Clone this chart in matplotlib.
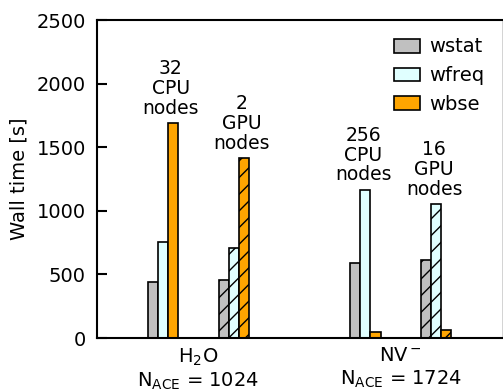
import numpy as np
import matplotlib
matplotlib.use("Agg")
import matplotlib.pyplot as plt


# ---- data ----
systems = ["H$_2$O\nN$_{\\mathrm{ACE}}$ = 1024", "NV$^-$\nN$_{\\mathrm{ACE}}$ = 1724"]
codes = ["wstat", "wfreq", "wbse"]
cpu_times = [[438, 755, 1688], [592, 1163, 47]]
gpu_times = [[458, 707, 1413], [613, 1051, 60]]
cpu_nodes = [32, 256]
gpu_nodes = [2, 16]

COLORS = ["silver", "lightcyan", "orange"]
WIDTH = 0.1
OFFSET = 0.35

plt.rcParams["font.size"] = 14
plt.rcParams["hatch.linewidth"] = 1.0

fig = plt.figure(figsize=(5.03, 3.91), dpi=100)
ax = fig.add_axes([97 / 503, 53 / 391, 405 / 503, 318 / 391])

x = np.arange(len(systems)) * 2.0

for i in range(len(systems)):
    for kind, times, nodes, hatch in [("CPU", cpu_times[i], cpu_nodes[i], None),
                                      ("GPU", gpu_times[i], gpu_nodes[i], "//")]:
        center = x[i] - OFFSET if kind == "CPU" else x[i] + OFFSET
        pos = center + (np.arange(len(codes)) - 1) * WIDTH
        for j in range(len(codes)):
            ax.bar(pos[j], times[j], WIDTH, color=COLORS[j], edgecolor="black",
                   linewidth=1.2, hatch=hatch,
                   label=codes[j] if (i == 0 and kind == "CPU") else None)
        k = int(np.argmax(times))
        ax.text(pos[k] - 0.02, max(times) + 45, f"{nodes}\n{kind}\nnodes",
                ha="center", va="bottom", fontsize=13.5, linespacing=1.05,
                multialignment="center")

ax.set_xlim(-1, 3)
ax.set_ylim(0, 2500)
ax.set_xticks(x)
ax.set_xticklabels(systems)
ax.set_yticks([0, 500, 1000, 1500, 2000, 2500])
ax.set_ylabel("Wall time [s]", labelpad=6)

ax.tick_params(axis="y", direction="in", length=7, width=1.5, pad=8, labelsize=14)
ax.tick_params(axis="x", length=0, pad=6, labelsize=14)
for side in ["left", "bottom", "top"]:
    ax.spines[side].set_linewidth(1.5)
ax.spines["right"].set_linewidth(0.6)
ax.spines["right"].set_color("#cccccc")

ax.legend(loc="upper right", frameon=False, fontsize=14, handlelength=1.3,
          handleheight=0.7, handletextpad=0.5, borderaxespad=0.5)

fig.savefig("out.png", dpi=100)
